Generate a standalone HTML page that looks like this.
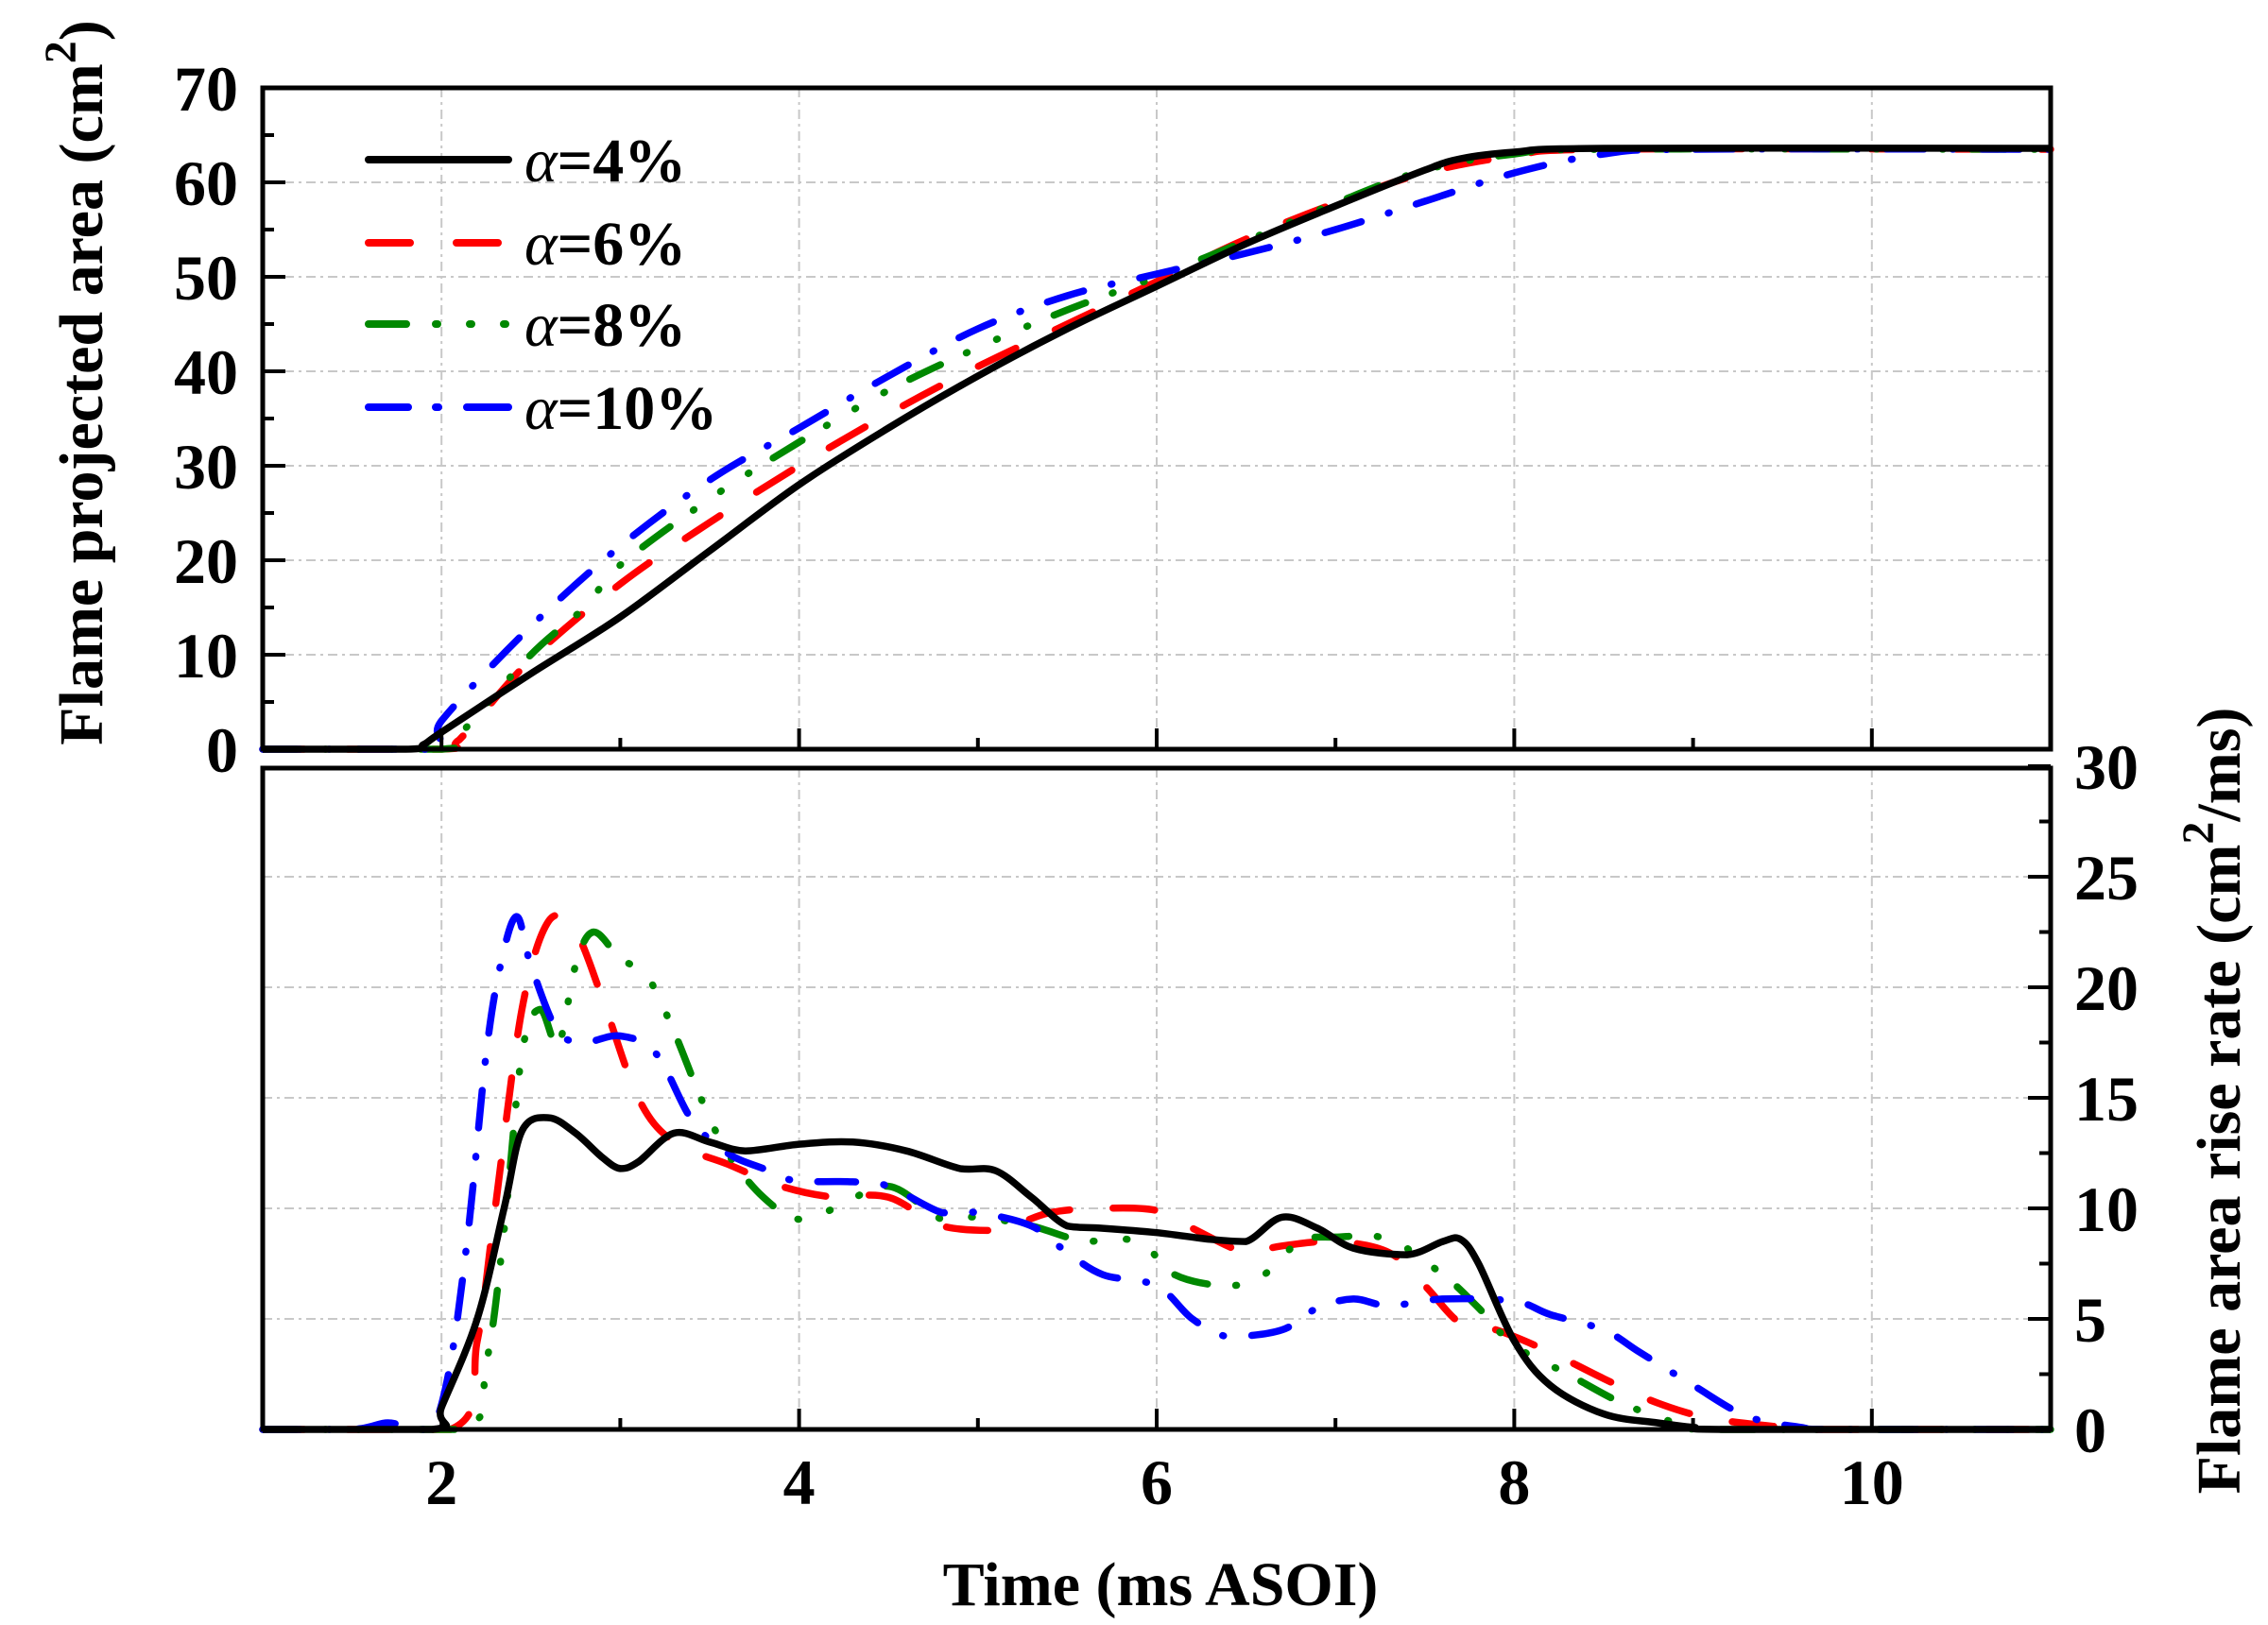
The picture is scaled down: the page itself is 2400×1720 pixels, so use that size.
<!DOCTYPE html>
<html><head><meta charset="utf-8"><style>
html,body{margin:0;padding:0;background:#fff;}
svg{display:block;}
text{font-family:"Liberation Serif",serif;font-weight:bold;fill:#000;}
</style></head><body>
<svg id="s" width="2400" height="1720" viewBox="0 0 2400 1720" xmlns="http://www.w3.org/2000/svg">
<g id="grid" stroke="#c8c8c8" stroke-width="2" stroke-dasharray="10,5,3,5" fill="none"></g>
<g id="curves" fill="none" stroke-width="7.5" stroke-linejoin="round"></g>
<g id="axes" stroke="#000" stroke-width="5" fill="none"></g>
<g id="labels" font-size="68"></g>
<g fill="none" stroke-width="8" stroke-linecap="round">
<line x1="390" y1="169" x2="538" y2="169" stroke="#000"/>
<line x1="390" y1="257" x2="434" y2="257" stroke="#f00"/>
<line x1="483" y1="257" x2="527" y2="257" stroke="#f00"/>
<line x1="390" y1="343" x2="430" y2="343" stroke="#080"/>
<line x1="461" y1="343" x2="463" y2="343" stroke="#080"/>
<line x1="497" y1="343" x2="499" y2="343" stroke="#080"/>
<line x1="533" y1="343" x2="535" y2="343" stroke="#080"/>
<line x1="390" y1="431" x2="432" y2="431" stroke="#00f"/>
<line x1="461" y1="431" x2="464" y2="431" stroke="#00f"/>
<line x1="494" y1="431" x2="538" y2="431" stroke="#00f"/>
</g>
<g font-size="66">
<text x="555" y="192"><tspan font-style="italic" font-weight="normal">α</tspan>=4%</text>
<text x="555" y="280"><tspan font-style="italic" font-weight="normal">α</tspan>=6%</text>
<text x="555" y="366"><tspan font-style="italic" font-weight="normal">α</tspan>=8%</text>
<text x="555" y="454"><tspan font-style="italic" font-weight="normal">α</tspan>=10%</text>
</g>
<text font-size="66" text-anchor="middle" x="1228" y="1699">Time (ms ASOI)</text>
<text font-size="66" text-anchor="middle" transform="translate(108,405) rotate(-90)">Flame projected area (cm<tspan dy="-28" font-size="48">2</tspan><tspan dy="28">)</tspan></text>
<text font-size="66" text-anchor="middle" transform="translate(2370,1165) rotate(-90)">Flame area rise rate (cm<tspan dy="-28" font-size="48">2</tspan><tspan dy="28">/ms)</tspan></text>
</svg>
<script>
var NS="http://www.w3.org/2000/svg";
function X(t){return 278+(t-1)*189.2;}
function YT(a){return 793-10*a;}
function YB(r){return 1513-23.4*r;}
function el(p,tag,at){var e=document.createElementNS(NS,tag);for(var k in at)e.setAttribute(k,at[k]);p.appendChild(e);return e;}
var g=document.getElementById('grid'),ax=document.getElementById('axes'),lb=document.getElementById('labels'),cv=document.getElementById('curves');
var L=278,R=2170,T1=93,B1=793,T2=813,B2=1513;
[2,4,6,8,10].forEach(function(t){el(g,'line',{x1:X(t),y1:T1,x2:X(t),y2:B1});el(g,'line',{x1:X(t),y1:T2,x2:X(t),y2:B2});});
for(var a=10;a<=60;a+=10)el(g,'line',{x1:L,y1:YT(a),x2:R,y2:YT(a)});
for(var r=5;r<=25;r+=5)el(g,'line',{x1:L,y1:YB(r),x2:R,y2:YB(r)});
el(ax,'rect',{x:L,y:T1,width:R-L,height:B1-T1});
el(ax,'rect',{x:L,y:T2,width:R-L,height:B2-T2});
for(var a=0;a<=70;a+=5){var len=a%10==0?24:12;el(ax,'line',{x1:L,y1:YT(a),x2:L+len,y2:YT(a),'stroke-width':4});
 if(a%10==0){var t=el(lb,'text',{x:252,y:YT(a)+24,'text-anchor':'end'});t.textContent=a;}}
for(var r=0;r<=30;r+=2.5){var len=r%5==0?24:12;el(ax,'line',{x1:R,y1:YB(r),x2:R-len,y2:YB(r),'stroke-width':4});
 if(r%5==0){var t=el(lb,'text',{x:2195,y:YB(r)+24});t.textContent=r;}}
for(var t=2;t<=10;t++){var len=t%2==0?22:12;el(ax,'line',{x1:X(t),y1:B1,x2:X(t),y2:B1-len,'stroke-width':4});el(ax,'line',{x1:X(t),y1:B2,x2:X(t),y2:B2-len,'stroke-width':4});
 if(t%2==0){var tx=el(lb,'text',{x:X(t),y:1592,'text-anchor':'middle'});tx.textContent=t;}}
var topD={
k:[[1,0],[1.8,0],[1.9,0.5],[2,1.8],[2.5,8],[3,14],[3.5,21],[4,28],[4.5,34],[5,39.5],[5.5,44.5],[6,49],[6.5,53.5],[7,57.5],[7.5,61.3],[7.7,62.5],[8,63.2],[8.5,63.6],[11,63.6]],
r:[[1,0],[2.0,0],[2.1,1],[2.5,9.5],[3,17.5],[3.5,24],[4,30],[4.5,35.5],[5,40.5],[5.5,45],[6,49.5],[6.5,54],[7,57.8],[7.5,61],[8,62.8],[8.5,63.5],[11,63.5]],
g:[[1,0],[2.0,0],[2.1,1.5],[2.5,10],[2.8,15],[3,19.5],[3.5,26.5],[4,32.5],[4.5,38],[5,42.5],[5.5,46.5],[6,50],[6.5,53.8],[7,57.8],[7.5,61.3],[8,63],[8.5,63.5],[11,63.5]],
b:[[1,0],[1.95,0],[2.0,3],[2.5,13],[3,21.5],[3.5,28.5],[4,34],[4.5,39.5],[5,44.5],[5.5,48],[6,50.3],[6.5,52.5],[7,55],[7.5,58],[8,61],[8.5,63],[9,63.5],[11,63.5]]};
var botD={
k:[[1,0],[1.95,0],[2.0,1],[2.2,5],[2.35,10],[2.45,13.5],[2.6,14.1],[2.75,13.4],[2.9,12.3],[3.0,11.8],[3.1,12.1],[3.3,13.4],[3.5,13],[3.7,12.6],[4.0,12.9],[4.3,13],[4.6,12.6],[4.9,11.8],[5.1,11.7],[5.3,10.5],[5.5,9.2],[5.7,9.1],[6.0,8.9],[6.3,8.6],[6.5,8.5],[6.7,9.6],[6.9,9.1],[7.1,8.2],[7.4,7.9],[7.6,8.5],[7.7,8.6],[7.8,7.5],[8.0,4],[8.2,2],[8.5,0.7],[8.8,0.3],[9.0,0.1],[9.2,0],[11,0]],
r:[[1,0],[2.05,0],[2.2,4],[2.3,10],[2.45,19],[2.6,23],[2.75,22.5],[2.9,19.5],[3.1,15],[3.3,13],[3.6,12],[3.9,11],[4.2,10.5],[4.5,10.5],[4.8,9.2],[5.1,9],[5.4,9.8],[5.7,10],[6.0,9.9],[6.2,9.1],[6.5,8],[6.7,8.3],[7.0,8.5],[7.3,8.0],[7.5,6.5],[7.7,4.8],[7.9,4.5],[8.2,3.5],[8.5,2.3],[8.8,1.2],[9.1,0.5],[9.5,0.1],[9.7,0],[11,0]],
g:[[1,0],[2.1,0],[2.25,3],[2.35,9],[2.45,17],[2.55,19],[2.65,17.3],[2.75,21],[2.85,22.5],[3.0,21.3],[3.15,20.5],[3.3,18],[3.45,15],[3.6,12.5],[3.8,10.5],[4.0,9.5],[4.2,10],[4.5,11],[4.8,9.5],[5.0,9.6],[5.3,9.2],[5.6,8.5],[5.9,8.5],[6.1,7],[6.4,6.5],[6.6,7],[6.8,8.5],[7.0,8.7],[7.3,8.6],[7.6,7],[7.8,5.5],[8.0,3.8],[8.3,2.5],[8.6,1.2],[8.9,0.3],[9.1,0],[11,0]],
b:[[1,0],[1.5,0],[1.7,0.3],[1.85,0],[1.95,0],[2.05,3],[2.15,9],[2.25,17],[2.33,21],[2.42,23.2],[2.5,21],[2.65,18],[2.8,17.5],[3.0,17.8],[3.2,17],[3.4,14],[3.6,12.5],[3.8,11.8],[4.0,11.2],[4.3,11.2],[4.5,11],[4.8,9.8],[5.0,9.8],[5.3,9.2],[5.5,8],[5.7,7],[6.0,6.5],[6.2,5],[6.4,4.2],[6.7,4.5],[6.9,5.5],[7.1,5.9],[7.3,5.6],[7.6,5.9],[8.0,5.8],[8.2,5.2],[8.5,4.5],[8.7,3.5],[9.0,2],[9.3,0.6],[9.6,0.1],[9.8,0],[11,0]]};
function path(pts,fy){var p=pts.map(function(q){return [X(q[0]),fy(q[1])];});
 var d='M'+p[0][0].toFixed(1)+','+p[0][1].toFixed(1);
 for(var i=0;i<p.length-1;i++){var p0=p[i-1]||p[i],p1=p[i],p2=p[i+1],p3=p[i+2]||p2;
  var c1x=p1[0]+(p2[0]-p0[0])/6,c1y=p1[1]+(p2[1]-p0[1])/6,c2x=p2[0]-(p3[0]-p1[0])/6,c2y=p2[1]-(p3[1]-p1[1])/6;
  c1y=Math.min(c1y,Math.max(p1[1],p2[1]));c2y=Math.min(c2y,Math.max(p1[1],p2[1]));
  d+='C'+c1x.toFixed(1)+','+c1y.toFixed(1)+' '+c2x.toFixed(1)+','+c2y.toFixed(1)+' '+p2[0].toFixed(1)+','+p2[1].toFixed(1);}
 return d;}
var sty={k:{stroke:'#000'},r:{stroke:'#f00','stroke-dasharray':'44,46','stroke-linecap':'round'},
 g:{stroke:'#080','stroke-dasharray':'36,30,1,34,1,34,1,30','stroke-linecap':'round'},
 b:{stroke:'#00f','stroke-dasharray':'40,30,1,30','stroke-linecap':'round'}};
['r','g','b','k'].forEach(function(k){
 var a=Object.assign({d:path(topD[k],YT)},sty[k]);el(cv,'path',a);
 var b=Object.assign({d:path(botD[k],YB)},sty[k]);el(cv,'path',b);});
</script>
</body></html>
